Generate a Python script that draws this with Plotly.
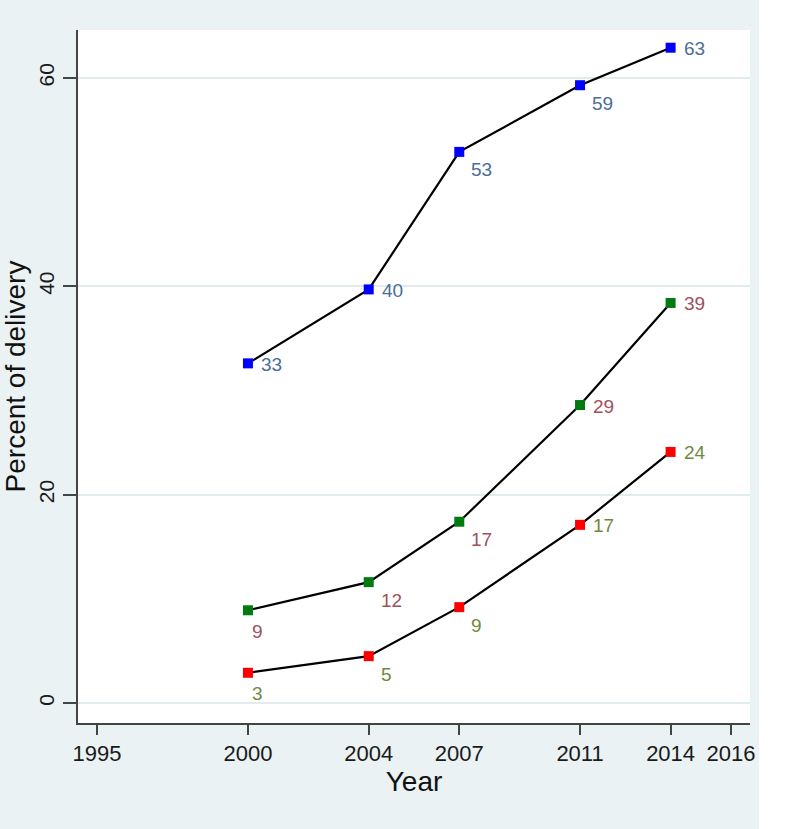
import plotly.graph_objects as go

# ---- data ----
years = [2000, 2004, 2007, 2011, 2014]
blue_vals = [32.6, 39.7, 52.9, 59.3, 62.9]
green_vals = [8.9, 11.6, 17.4, 28.6, 38.4]
red_vals = [2.9, 4.5, 9.2, 17.1, 24.1]
blue_labels = ["33", "40", "53", "59", "63"]
green_labels = ["9", "12", "17", "29", "39"]
red_labels = ["3", "5", "9", "17", "24"]
x_ticks = [1995, 2000, 2004, 2007, 2011, 2014, 2016]
y_ticks = [0, 20, 40, 60]

# ---- style ----
FONT = "Liberation Sans, Arial, sans-serif"
blue_pos = ["r", "r", "br", "br", "r"]
green_pos = ["b", "br", "br", "r", "r"]
red_pos = ["b", "br", "br", "r", "r"]
offsets = {
    "r": dict(xanchor="left", xshift=11, yshift=-1),
    "br": dict(xanchor="left", xshift=10, yshift=-18),
    "b": dict(xanchor="center", xshift=10, yshift=-21),
}

series = [
    (blue_vals, blue_labels, blue_pos, "#0000ff", "#4a6e96"),
    (green_vals, green_labels, green_pos, "#037a10", "#a0505c"),
    (red_vals, red_labels, red_pos, "#ff0000", "#6f8a3e"),
]

fig = go.Figure()
annotations = []
for vals, labels, pos, mcol, lcol in series:
    fig.add_trace(go.Scatter(
        x=years, y=vals, mode="lines+markers",
        line=dict(color="black", width=2.2),
        marker=dict(symbol="square", size=10, color=mcol),
        showlegend=False, hoverinfo="x+y",
    ))
    for xv, yv, lab, p in zip(years, vals, labels, pos):
        annotations.append(dict(
            x=xv, y=yv, xref="x", yref="y", text=lab, showarrow=False,
            font=dict(family=FONT, size=19, color=lcol),
            yanchor="middle", **offsets[p]
        ))

fig.update_layout(
    width=800, height=829,
    margin=dict(l=78, r=50, t=30, b=106),
    paper_bgcolor="#eaf2f3",
    plot_bgcolor="white",
    font=dict(family=FONT, color="#1a1a1a"),
    annotations=annotations,
    shapes=[dict(type="rect", xref="paper", yref="paper",
                 x0=1.0134, x1=1.2, y0=-0.3, y1=1.2,
                 fillcolor="white", line=dict(width=0), layer="below")],
)

fig.update_xaxes(
    range=[1994.37, 2016.63], automargin=False,
    tickmode="array", tickvals=x_ticks, ticktext=[str(t) for t in x_ticks],
    showgrid=False, zeroline=False,
    showline=True, linecolor="#444444", linewidth=1.5,
    ticks="outside", ticklen=10, tickwidth=1.5, tickcolor="#444444",
    tickfont=dict(family=FONT, size=22, color="#1a1a1a"),
    ticklabelstandoff=0,
    title=dict(text="Year", font=dict(family=FONT, size=28, color="#111111"), standoff=1),
)
fig.update_yaxes(
    range=[-1.92, 64.6], automargin=False,
    tickmode="array", tickvals=y_ticks, ticktext=[str(t) for t in y_ticks],
    showgrid=True, gridcolor="#e2ecef", gridwidth=2, zeroline=False,
    showline=True, linecolor="#444444", linewidth=1.5,
    ticks="outside", ticklen=13, tickwidth=1.5, tickcolor="#444444",
    tickangle=-90,
    tickfont=dict(family=FONT, size=21, color="#1a1a1a"),
    ticklabelstandoff=1,
    title=dict(text="Percent of delivery", font=dict(family=FONT, size=28, color="#111111"), standoff=4),
)

fig.write_html(
    "out.html",
    config={"displayModeBar": False},
    post_script="document.body.style.margin='0';document.body.style.overflow='hidden';",
)
